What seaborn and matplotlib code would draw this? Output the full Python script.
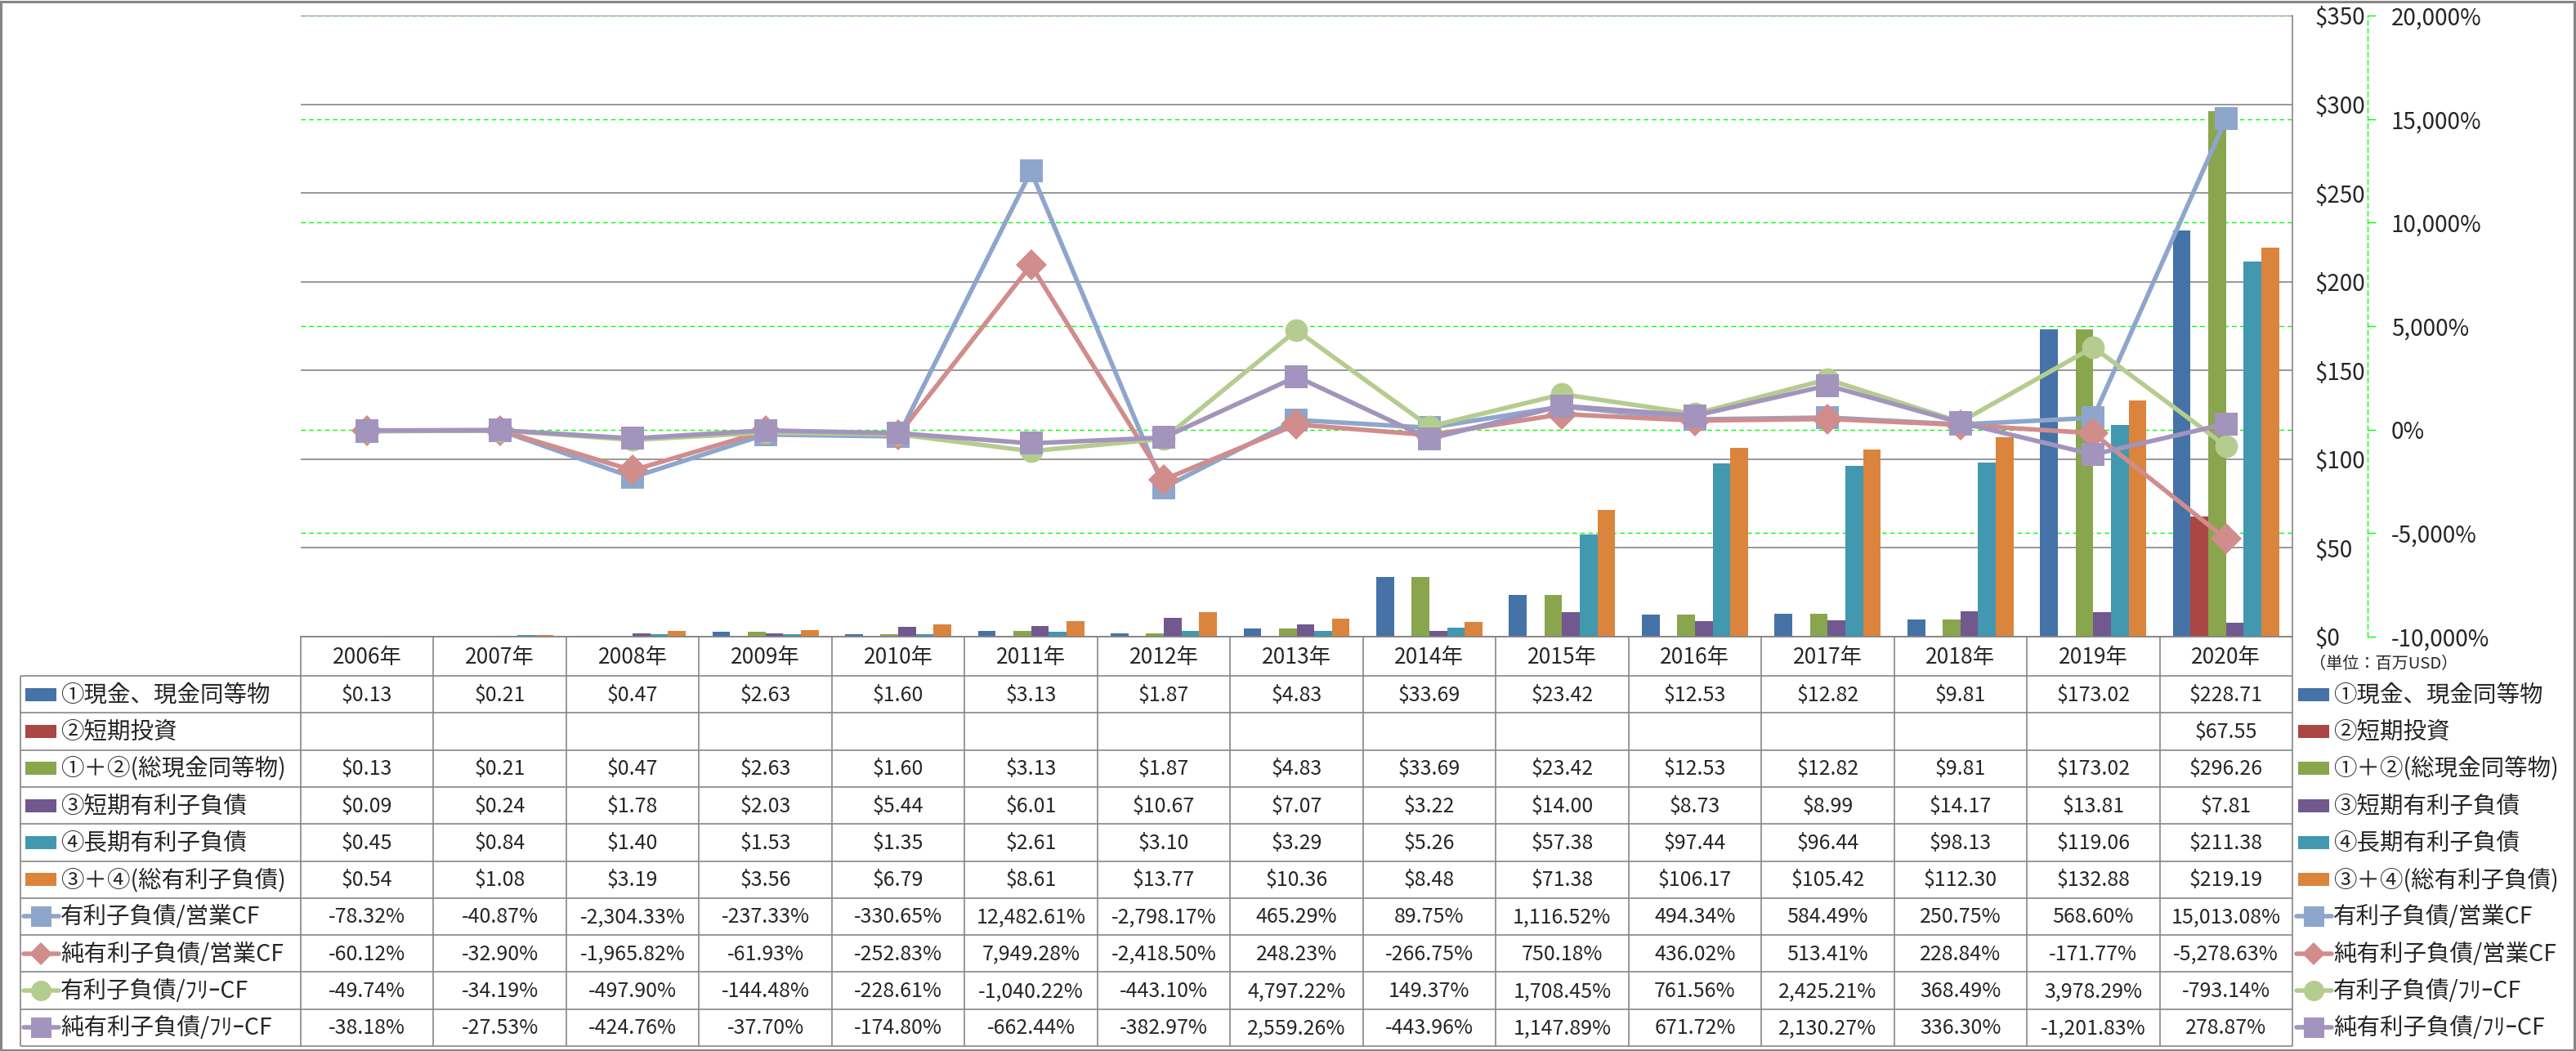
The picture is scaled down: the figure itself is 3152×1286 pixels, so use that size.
import numpy as np
import pandas as pd
import matplotlib
matplotlib.use("Agg")
import matplotlib.pyplot as plt
from matplotlib.patches import Rectangle
from matplotlib.lines import Line2D
import seaborn as sns

# --- data (単位: 百万USD / %) ---
years = ["2006年", "2007年", "2008年", "2009年", "2010年", "2011年", "2012年", "2013年",
         "2014年", "2015年", "2016年", "2017年", "2018年", "2019年", "2020年"]

cash = [0.13, 0.21, 0.47, 2.63, 1.60, 3.13, 1.87, 4.83, 33.69, 23.42, 12.53, 12.82, 9.81, 173.02, 228.71]
short_inv = [np.nan] * 14 + [67.55]
total_cash = [0.13, 0.21, 0.47, 2.63, 1.60, 3.13, 1.87, 4.83, 33.69, 23.42, 12.53, 12.82, 9.81, 173.02, 296.26]
short_debt = [0.09, 0.24, 1.78, 2.03, 5.44, 6.01, 10.67, 7.07, 3.22, 14.00, 8.73, 8.99, 14.17, 13.81, 7.81]
long_debt = [0.45, 0.84, 1.40, 1.53, 1.35, 2.61, 3.10, 3.29, 5.26, 57.38, 97.44, 96.44, 98.13, 119.06, 211.38]
total_debt = [0.54, 1.08, 3.19, 3.56, 6.79, 8.61, 13.77, 10.36, 8.48, 71.38, 106.17, 105.42, 112.30, 132.88, 219.19]

debt_ocf = [-78.32, -40.87, -2304.33, -237.33, -330.65, 12482.61, -2798.17, 465.29, 89.75,
            1116.52, 494.34, 584.49, 250.75, 568.60, 15013.08]
net_debt_ocf = [-60.12, -32.90, -1965.82, -61.93, -252.83, 7949.28, -2418.50, 248.23, -266.75,
                750.18, 436.02, 513.41, 228.84, -171.77, -5278.63]
debt_fcf = [-49.74, -34.19, -497.90, -144.48, -228.61, -1040.22, -443.10, 4797.22, 149.37,
            1708.45, 761.56, 2425.21, 368.49, 3978.29, -793.14]
net_debt_fcf = [-38.18, -27.53, -424.76, -37.70, -174.80, -662.44, -382.97, 2559.26, -443.96,
                1147.89, 671.72, 2130.27, 336.30, -1201.83, 278.87]

bar_names = ["①現金、現金同等物", "②短期投資", "①＋②(総現金同等物)",
             "③短期有利子負債", "④長期有利子負債", "③＋④(総有利子負債)"]
bar_values = [cash, short_inv, total_cash, short_debt, long_debt, total_debt]
bar_colors = ["#4572A7", "#AA4643", "#89A54E", "#71588F", "#4198AF", "#DB843D"]

line_names = ["有利子負債/営業CF", "純有利子負債/営業CF", "有利子負債/ﾌﾘｰCF", "純有利子負債/ﾌﾘｰCF"]
line_values = [debt_ocf, net_debt_ocf, debt_fcf, net_debt_fcf]
line_colors = ["#8EA6CC", "#D18C8C", "#B5CC8F", "#A394BD"]
line_markers = ["s", "D", "o", "s"]

sns.set_style("white")
plt.rcParams["font.family"] = ["Noto Sans CJK JP", "DejaVu Sans"]
plt.rcParams["axes.unicode_minus"] = False

W, H = 3152, 1286
GRAY = "#868686"
LIME = "#00FF00"


def px_box(x0, y0, x1, y1):
    return [x0 / W, 1 - y1 / H, (x1 - x0) / W, (y1 - y0) / H]


fig = plt.figure(figsize=(W / 100, H / 100), dpi=100)
fig.patch.set_facecolor("white")

# --- bars on the $ axis ---
bar_df = pd.DataFrame(dict(zip(bar_names, bar_values)))
bar_df["年"] = years
bar_long = bar_df.melt(id_vars="年", var_name="系列", value_name="値")

ax = fig.add_axes(px_box(368, 19, 2805, 779))
sns.barplot(data=bar_long, x="年", y="値", hue="系列", hue_order=bar_names,
            palette=bar_colors, saturation=1, width=0.8, errorbar=None,
            linewidth=0, legend=False, ax=ax)
ax.set_xlim(-0.5, len(years) - 0.5)
ax.set_ylim(0, 350)
ax.set_yticks(np.arange(0, 351, 50))
ax.set_yticklabels([f"${v:,.0f}" for v in np.arange(0, 351, 50)])
ax.set_xlabel("")
ax.set_ylabel("")
ax.grid(axis="y", color=GRAY, lw=1.2)
ax.grid(axis="x", visible=False)
ax.set_axisbelow(True)
for s in ["left", "top"]:
    ax.spines[s].set_visible(False)
for s in ["right", "bottom"]:
    ax.spines[s].set_color(GRAY)
    ax.spines[s].set_linewidth(1.2)

# --- % axis (grid + ticks), drawn beneath the bars ---
pct_ticks = np.arange(-10000, 20001, 5000)
ax_pct = ax.twinx()
ax_pct.set_ylim(-10000, 20000)
ax_pct.set_yticks(pct_ticks)
ax_pct.set_yticklabels([f"{v:,.0f}%" for v in pct_ticks])
for lbl, v in zip(ax_pct.get_yticklabels(), pct_ticks):
    lbl.set_color("red" if v < 0 else "black")
ax_pct.tick_params(axis="y", direction="out", length=7, width=1, color=LIME,
                   pad=14, labelsize=20)
ax_pct.grid(axis="y", color=LIME, lw=1, ls=(0, (4, 3)))
for s in ["left", "top", "bottom"]:
    ax_pct.spines[s].set_visible(False)
ax_pct.spines["right"].set_position(("outward", 66))
ax_pct.spines["right"].set_color(LIME)
ax_pct.spines["right"].set_linestyle((0, (4, 3)))
ax_pct.spines["right"].set_linewidth(1)
ax_pct.set_zorder(0)
ax.set_zorder(1)
ax.patch.set_visible(False)
ax_pct.patch.set_visible(False)

# --- ratio lines, on top of everything ---
line_df = pd.DataFrame(dict(zip(line_names, line_values)))
line_df["pos"] = np.arange(len(years))
line_long = line_df.melt(id_vars="pos", var_name="系列", value_name="値")

ax_line = ax.twinx()
ax_line.set_zorder(2)
ax_line.patch.set_visible(False)
sns.lineplot(data=line_long, x="pos", y="値", hue="系列", style="系列",
             hue_order=line_names, style_order=line_names, palette=line_colors,
             markers=dict(zip(line_names, line_markers)), dashes=False,
             linewidth=4.0, markersize=20, markeredgewidth=0, legend=False, ax=ax_line)
for ln in ax_line.lines:
    if ln.get_marker() == "D":
        ln.set_markersize(19)
ax_line.set_ylim(-10000, 20000)
ax_line.set_xlim(-0.5, len(years) - 0.5)
ax_line.axis("off")

# twinx moves the $ ticks to the left; put them back on the right
ax.yaxis.tick_right()
ax.tick_params(axis="y", length=0, pad=20, labelsize=20, labelleft=False, labelright=True)
ax.tick_params(axis="x", length=0, labelbottom=False)

# --- data table + legend (pixel coordinates overlay) ---
ov = fig.add_axes([0, 0, 1, 1])
ov.set_xlim(0, W)
ov.set_ylim(H, 0)
ov.axis("off")

col_l, col_r = 368, 2805
col_w = (col_r - col_l) / len(years)
leg_l = 25
head_top, head_bot, tab_bot = 779, 827, 1280
row_h = (tab_bot - head_bot) / 10
row_edges = [head_bot + k * row_h for k in range(11)]

lkw = dict(color=GRAY, lw=1.2, solid_capstyle="butt")
ov.plot([col_l, col_r], [head_top, head_top], **lkw)
for y in row_edges:
    ov.plot([leg_l, col_r], [y, y], **lkw)
for k in range(len(years) + 1):
    x = col_l + k * col_w
    ov.plot([x, x], [head_top, tab_bot], **lkw)
ov.plot([leg_l, leg_l], [head_bot, tab_bot], **lkw)

for i, yr in enumerate(years):
    ov.text(col_l + (i + 0.5) * col_w, (head_top + head_bot) / 2 + 1, yr,
            ha="center", va="center", fontsize=19)

names = bar_names + line_names
all_vals = bar_values + line_values
for r, (name, vals) in enumerate(zip(names, all_vals)):
    yc = row_edges[r] + row_h / 2
    is_pct = r >= len(bar_names)
    for i, v in enumerate(vals):
        if np.isnan(v):
            continue
        s = f"{v:,.2f}%" if is_pct else f"${v:,.2f}"
        ov.text(col_l + (i + 0.5) * col_w, yc + 1, s, ha="center", va="center", fontsize=18)

    # legend keys: left table column and right legend
    for kx, tx in [(29, 74), (2810, 2855)]:
        if not is_pct:
            ov.add_patch(Rectangle((kx + 2, yc - 8), 38, 16, color=bar_colors[r], lw=0))
        else:
            j = r - len(bar_names)
            ov.add_line(Line2D([kx, kx + 43], [yc, yc], color=line_colors[j], lw=4.0))
            ms = 14 if line_markers[j] == "D" else 18
            ov.plot([kx + 21.5], [yc], marker=line_markers[j], ms=ms,
                    color=line_colors[j], mew=0)
        ov.text(tx, yc + 1, name, ha="left", va="center", fontsize=20.5)

ov.text(2826, 812, "（単位：百万USD）", ha="left", va="center", fontsize=14.5)

# outer frame
ov.add_patch(Rectangle((1.5, 1.5), W - 3, H - 3, fill=False, ec=GRAY, lw=2.2))

fig.savefig("out.png", dpi=100, facecolor="white")
